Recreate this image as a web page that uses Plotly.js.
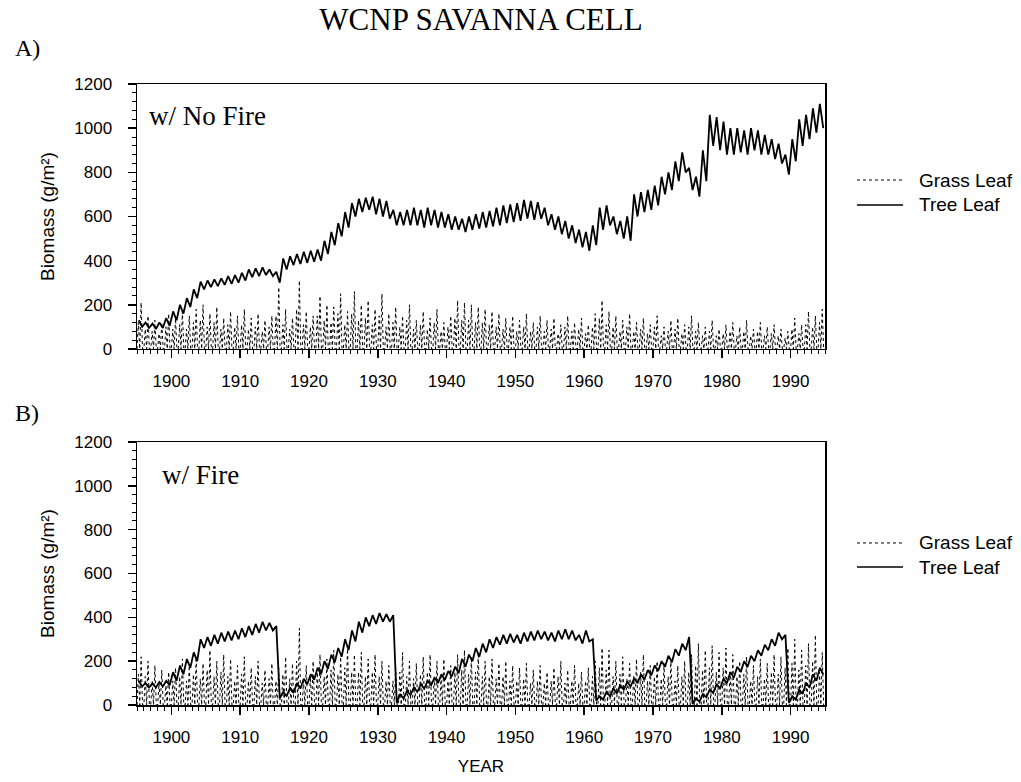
<!DOCTYPE html>
<html>
<head>
<meta charset="utf-8">
<script src="https://cdn.plot.ly/plotly-3.0.1.min.js"></script>
<style>
  html, body { margin: 0; padding: 0; background: #ffffff; }
  #chart { width: 1021px; height: 782px; }
</style>
</head>
<body>
<div id="chart"></div>
<script>
// ---- DATA (one value per year 1895..1994) ----
const startYear = 1895;

// Panel A: without fire
const treeA_hi = [
  130,120,115,120,140,170,200,230,270,305,
  310,315,320,330,335,345,360,365,370,360,
  350,410,420,430,440,445,450,490,530,570,
  620,660,680,685,690,680,670,630,620,630,
  640,630,640,630,620,610,600,590,600,610,
  620,625,640,650,655,660,675,670,665,640,
  610,600,580,560,540,530,560,640,650,600,
  580,600,700,710,720,740,780,800,850,890,
  820,780,900,1060,1050,1030,1000,1000,990,1000,
  990,970,950,930,880,950,1040,1060,1090,1110
];
const treeA_lo = [
  100,95,90,95,105,130,160,190,230,270,
  280,285,290,295,300,310,325,330,335,330,
  300,360,380,385,390,395,400,430,470,510,
  550,600,620,630,610,600,590,560,560,560,
  560,550,560,550,550,540,540,530,540,545,
  550,555,560,570,575,580,590,585,590,560,
  540,520,500,480,460,445,470,540,560,520,
  500,490,600,620,630,650,700,720,760,800,
  720,690,760,920,900,880,880,890,880,900,
  880,880,860,840,790,850,920,950,980,1000
];
const grassA_peak = [
  210,150,130,120,160,140,170,150,180,200,
  160,190,140,170,150,180,140,160,130,150,
  280,180,140,310,170,150,240,200,190,250,
  170,260,200,220,180,250,160,190,150,200,
  130,170,140,180,120,150,220,210,200,190,
  180,170,160,140,150,130,160,120,150,130,
  140,110,150,120,140,110,160,220,170,150,
  130,160,120,140,110,150,100,130,140,110,
  150,120,100,130,90,110,120,100,130,90,
  120,100,110,90,80,140,110,170,150,180
];
const grassA_second = [
  120,90,80,70,100,90,110,90,120,130,
  100,120,90,110,100,110,90,100,80,100,
  150,110,90,180,110,100,150,130,120,160,
  110,160,130,140,110,150,100,120,100,130,
  90,110,90,120,80,100,140,130,130,120,
  120,110,100,90,100,80,100,80,100,80,
  90,70,100,80,90,70,100,140,110,100,
  80,100,80,90,70,100,60,80,90,70,
  100,80,60,80,60,70,80,60,80,60,
  80,60,70,60,50,90,70,110,100,120
];

// Panel B: with fire
const treeB_hi = [
  110,100,100,105,110,150,180,210,240,300,
  310,320,330,335,340,350,360,370,380,375,
  360,60,80,100,120,140,170,200,230,260,
  300,340,380,400,410,420,415,410,50,65,
  80,95,110,125,140,155,175,210,230,260,
  280,300,310,320,325,320,330,335,340,335,
  330,340,345,340,320,340,300,40,60,75,
  90,105,120,140,160,180,200,225,255,280,
  310,30,50,70,95,120,150,175,200,225,
  250,275,300,330,320,40,70,100,140,170
];
const treeB_lo = [
  85,80,80,85,90,110,140,170,200,260,
  270,280,290,295,300,310,320,330,340,340,
  30,40,55,75,95,115,140,165,195,220,
  250,290,330,360,370,380,380,10,30,45,
  60,75,90,100,115,130,145,175,200,220,
  240,260,275,280,285,280,290,295,300,295,
  290,300,300,295,280,290,20,25,40,55,
  70,85,100,115,135,155,175,195,225,250,
  5,15,35,55,75,100,125,150,175,200,
  225,250,270,300,10,25,50,80,110,140
];
const grassB_peak = [
  220,200,180,160,150,170,210,180,220,190,
  250,200,230,210,180,220,170,200,160,190,
  170,220,190,350,180,200,230,210,250,220,
  270,230,240,210,230,200,180,170,240,200,
  190,220,230,200,210,180,230,250,220,240,
  200,210,190,200,180,170,190,160,180,150,
  170,200,160,180,150,170,200,260,250,200,
  220,190,210,230,180,200,190,210,180,200,
  230,280,250,270,240,260,230,200,220,180,
  210,190,230,220,260,300,250,280,320,240
];
const grassB_second = [
  140,130,110,100,90,110,130,110,140,120,
  160,130,150,130,110,140,110,130,100,120,
  110,140,120,200,110,130,150,130,160,140,
  170,150,150,130,150,130,110,110,150,130,
  120,140,150,130,130,110,150,160,140,150,
  130,130,120,130,110,110,120,100,110,100,
  110,130,100,110,100,110,130,170,160,130,
  140,120,130,150,110,130,120,130,110,130,
  150,180,160,170,150,170,150,130,140,110,
  130,120,150,140,170,190,160,180,200,150
];

const seriesNames = ['Grass Leaf', 'Tree Leaf'];
const panelNotes = ['w/ No Fire', 'w/ Fire'];
const panelLetters = ['A)', 'B)'];

// ---- build seasonal traces from the yearly values ----
function treeSeries(hi, lo) {
  const x = [], y = [];
  for (let i = 0; i < hi.length; i++) {
    x.push(startYear + i + 0.25); y.push(hi[i]);
    x.push(startYear + i + 0.75); y.push(lo[i]);
  }
  return {x, y};
}
function grassSeries(peak, second) {
  const x = [], y = [];
  for (let i = 0; i < peak.length; i++) {
    x.push(startYear + i + 0.0); y.push(0);
    x.push(startYear + i + 0.2); y.push(second[i]);
    x.push(startYear + i + 0.4); y.push(0);
    x.push(startYear + i + 0.6); y.push(peak[i]);
    x.push(startYear + i + 0.8); y.push(0);
  }
  return {x, y};
}

const tA = treeSeries(treeA_hi, treeA_lo);
const gA = grassSeries(grassA_peak, grassA_second);
const tB = treeSeries(treeB_hi, treeB_lo);
const gB = grassSeries(grassB_peak, grassB_second);

const grassLine = {color: '#000', width: 1, dash: 'dot'};
const treeLine = {color: '#000', width: 1.8};

const traces = [
  {x: gA.x, y: gA.y, xaxis: 'x', yaxis: 'y', mode: 'lines', name: seriesNames[0], line: grassLine},
  {x: tA.x, y: tA.y, xaxis: 'x', yaxis: 'y', mode: 'lines', name: seriesNames[1], line: treeLine},
  {x: gB.x, y: gB.y, xaxis: 'x2', yaxis: 'y2', mode: 'lines', name: seriesNames[0], line: grassLine},
  {x: tB.x, y: tB.y, xaxis: 'x2', yaxis: 'y2', mode: 'lines', name: seriesNames[1], line: treeLine}
];

const sans = 'Liberation Sans, Arial, sans-serif';
const serif = 'Liberation Serif, Times New Roman, serif';
const tickFont = {family: sans, size: 17, color: '#000'};

function xAxis(anchor, withTitle) {
  const ax = {
    anchor: anchor, domain: [0, 1], range: [1895, 1995],
    tick0: 1900, dtick: 10, ticks: 'outside', ticklen: 8, tickwidth: 1.5, tickcolor: '#000',
    minor: {dtick: 1, ticks: 'outside', ticklen: 4, tickwidth: 1, tickcolor: '#000', showgrid: false},
    showline: true, linecolor: '#000', linewidth: 1.5, mirror: true,
    showgrid: false, zeroline: false, tickfont: tickFont, ticklabelstandoff: 8
  };
  if (withTitle) ax.title = {text: 'YEAR', font: {family: sans, size: 17, color: '#000'}, standoff: 14};
  return ax;
}
function yAxis(anchor, domain) {
  return {
    anchor: anchor, domain: domain, range: [0, 1200],
    tick0: 0, dtick: 200, ticks: 'outside', ticklen: 8, tickwidth: 1.5, tickcolor: '#000',
    minor: {dtick: 40, ticks: 'outside', ticklen: 4, tickwidth: 1, tickcolor: '#000', showgrid: false},
    showline: true, linecolor: '#000', linewidth: 1.5, mirror: true,
    showgrid: false, zeroline: false, tickfont: tickFont, ticklabelstandoff: 12,
    title: {text: 'Biomass (g/m²)', font: {family: sans, size: 19, color: '#000'}, standoff: 14}
  };
}

// legend drawn as line samples + labels beside each panel (paper coordinates)
const legX0 = 1.0465, legX1 = 1.1134, legText = 1.1337;
const legRows = [[0.8454, 0.8052], [0.2609, 0.2222]];
const shapes = [], annotations = [];
legRows.forEach(rows => {
  shapes.push({type: 'line', xref: 'paper', yref: 'paper', x0: legX0, x1: legX1, y0: rows[0], y1: rows[0],
               line: {color: '#000', width: 1, dash: 'dot'}});
  shapes.push({type: 'line', xref: 'paper', yref: 'paper', x0: legX0, x1: legX1, y0: rows[1], y1: rows[1],
               line: {color: '#000', width: 1.6}});
  annotations.push({text: seriesNames[0], xref: 'paper', yref: 'paper', x: legText, y: rows[0],
                    xanchor: 'left', yanchor: 'middle', showarrow: false, font: {family: sans, size: 19, color: '#000'}});
  annotations.push({text: seriesNames[1], xref: 'paper', yref: 'paper', x: legText, y: rows[1],
                    xanchor: 'left', yanchor: 'middle', showarrow: false, font: {family: sans, size: 19, color: '#000'}});
});
annotations.push(
  {text: panelLetters[0], xref: 'paper', yref: 'paper', x: -0.18, y: 1.058, xanchor: 'left', yanchor: 'middle',
   showarrow: false, font: {family: serif, size: 24, color: '#000'}},
  {text: panelLetters[1], xref: 'paper', yref: 'paper', x: -0.18, y: 0.470, xanchor: 'left', yanchor: 'middle',
   showarrow: false, font: {family: serif, size: 24, color: '#000'}},
  {text: panelNotes[0], xref: 'x', yref: 'y', x: 1896.5, y: 1055, xanchor: 'left', yanchor: 'middle',
   showarrow: false, font: {family: serif, size: 27, color: '#000'}},
  {text: panelNotes[1], xref: 'x2', yref: 'y2', x: 1898.3, y: 1050, xanchor: 'left', yanchor: 'middle',
   showarrow: false, font: {family: serif, size: 27, color: '#000'}}
);

const layout = {
  width: 1021, height: 782,
  margin: {l: 137, r: 196, t: 84, b: 77},
  paper_bgcolor: '#fff', plot_bgcolor: '#fff',
  showlegend: false,
  title: {text: 'WCNP SAVANNA CELL', font: {family: serif, size: 31, color: '#000'},
          x: 0.5, xref: 'paper', xanchor: 'center', y: 0.975, yref: 'container', yanchor: 'middle'},
  xaxis: xAxis('y', false),
  yaxis: yAxis('x', [0.5733, 1]),
  xaxis2: xAxis('y2', true),
  yaxis2: yAxis('x2', [0, 0.4235]),
  shapes: shapes,
  annotations: annotations
};

Plotly.newPlot('chart', traces, layout, {staticPlot: true, displayModeBar: false});
</script>
</body>
</html>
